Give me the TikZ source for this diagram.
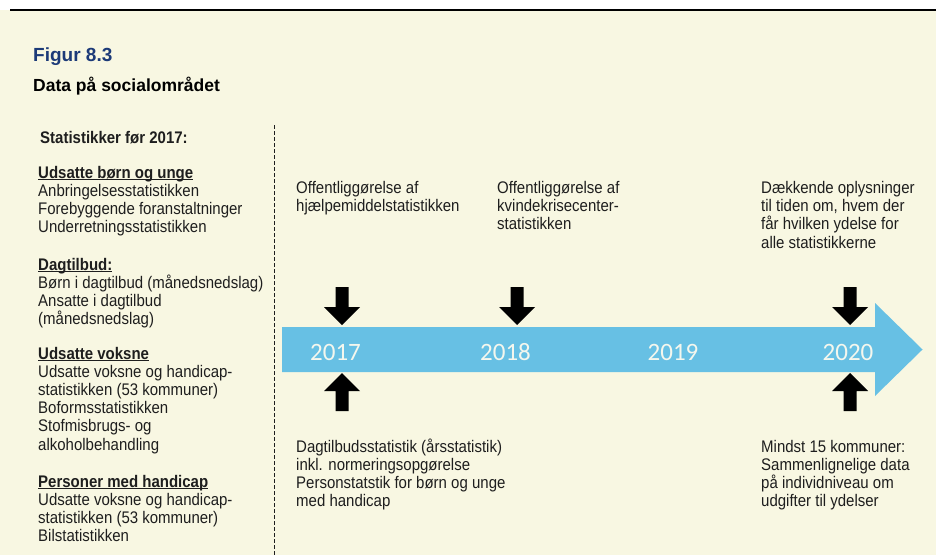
\documentclass[tikz,border=0pt]{standalone}
\usepackage{fontspec}
\setmainfont{Liberation Sans}
\newfontfamily\yearfont{Carlito}
\definecolor{cream}{HTML}{F8F7E2}
\definecolor{tlblue}{HTML}{67C0E4}
\definecolor{titleblue}{HTML}{1C3A78}
\definecolor{txt}{HTML}{1E1E1E}
\definecolor{yeartxt}{HTML}{F4F7EE}
\newcommand\undl[1]{\setbox0=\hbox{#1}\rlap{\rule[-2.1pt]{\wd0}{1pt}}\box0}
\newcommand\stacklines[1]{\scalebox{1}[1.12]{\vtop{\let\\\cr\halign{##\hfil\cr#1\cr}}}}
\tikzset{
  body/.style={anchor=base west, inner sep=0pt, text=txt,
    font=\fontsize{15}{16.25}\selectfont},
  rbody/.style={body, font=\fontsize{15}{16.5}\selectfont},
  bbody/.style={body, font=\fontsize{15}{16.1}\selectfont},
  year/.style={anchor=base, inner sep=0pt, text=yeartxt,
    font=\yearfont\fontsize{25}{25}\selectfont},
  blockarrow/.pic={\fill[black] (-6.5,0) -- (6.5,0) -- (6.5,20) -- (18,20)
    -- (0,38) -- (-18,20) -- (-6.5,20) -- cycle;},
}
\begin{document}
\begin{tikzpicture}[x=1pt,y=-1pt]
\useasboundingbox (0,0) rectangle (936,555);
\fill[white] (0,0) rectangle (936,555);
\fill[cream] (0,10) rectangle (936,555);
\coordinate (ruleL) at (10,10);
\coordinate (ruleR) at (936,10);
\draw[line width=1.2pt] (ruleL) -- (ruleR);

% titles
\node[anchor=base west, inner sep=0pt, text=titleblue,
  font=\bfseries\fontsize{19}{19}\selectfont] (fig) at (33,61) {Figur 8.3};
\node[anchor=base west, inner sep=0pt, text=black,
  font=\bfseries\fontsize{17.5}{17.5}\selectfont] (title) at (33,91.5) {Data på socialområdet};

% separator
\coordinate (sepT) at (274,125);
\coordinate (sepB) at (274,555);
\draw[dash pattern=on 3.5pt off 2.5pt, line width=0.8pt, txt] (sepT) -- (sepB);

% left column
\node[body, font=\bfseries\fontsize{15}{16.25}\selectfont] (stat) at (40,143) {\stacklines{Statistikker før 2017:}};
\node[body] (grp1) at (38,178) {\stacklines{\textbf{\undl{Udsatte børn og unge}}\\Anbringelsesstatistikken\\Forebyggende foranstaltninger\\Underretningsstatistikken}};
\node[body] (grp2) at (38,270) {\stacklines{\textbf{\undl{Dagtilbud:}}\\Børn i dagtilbud (månedsnedslag)\\Ansatte i dagtilbud\\(månedsnedslag)}};
\node[body] (grp3) at (38,359) {\stacklines{\textbf{\undl{Udsatte voksne}}\\Udsatte voksne og handicap-\\statistikken (53 kommuner)\\Boformsstatistikken\\Stofmisbrugs- og\\alkoholbehandling}};
\node[body] (grp4) at (38,487) {\stacklines{\textbf{\undl{Personer med handicap}}\\Udsatte voksne og handicap-\\statistikken (53 kommuner)\\Bilstatistikken}};

% timeline
\fill[tlblue] (282,327) -- (875,327) -- (875,303) -- (922.5,349.5)
  -- (875,396) -- (875,372) -- (282,372) -- cycle;
\node[year] (y2017) at (335.5,360) {2017};
\node[year] (y2018) at (505.5,360) {2018};
\node[year] (y2019) at (673,360) {2019};
\node[year] (y2020) at (848,360) {2020};

% block arrows
\pic at (342,287) {blockarrow};
\pic at (517,287) {blockarrow};
\pic at (850,287) {blockarrow};
\pic[rotate=180] at (342,411) {blockarrow};
\pic[rotate=180] at (850,411) {blockarrow};

% event texts
\node[rbody] (e2017) at (296,193) {\stacklines{Offentliggørelse af\\hjælpemiddelstatistikken}};
\node[rbody] (e2018) at (497,193) {\stacklines{Offentliggørelse af\\kvindekrisecenter-\\statistikken}};
\node[rbody] (e2020) at (761,193) {\stacklines{Dækkende oplysninger\\til tiden om, hvem der\\får hvilken ydelse for\\alle statistikkerne}};
\node[bbody] (b2017) at (296,452) {\stacklines{Dagtilbudsstatistik (årsstatistik)\\inkl. normeringsopgørelse\\Personstatstik for børn og unge\\med handicap}};
\node[bbody] (b2020) at (761,452) {\stacklines{Mindst 15 kommuner:\\Sammenlignelige data\\på individniveau om\\udgifter til ydelser}};
\end{tikzpicture}
\end{document}
